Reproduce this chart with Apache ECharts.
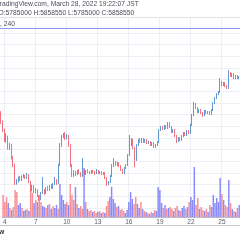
<!DOCTYPE html>
<html><head><meta charset="utf-8">
<script src="https://cdn.jsdelivr.net/npm/echarts@6/dist/echarts.min.js"></script>
<style>html,body{margin:0;padding:0;background:#fff;overflow:hidden}#c{width:240px;height:240px}</style>
</head><body><div id="c"></div>
<script>
// 240-minute candles, prices in thousand JPY
const tickDays = [4, 7, 10, 13, 16, 19, 22, 25];
const openK = [5314,5237,5168,5083,5108,5014,5040,4928,4868,4714,
4731,4757,4740,4766,4774,4757,4783,4723,4654,4689,
4637,4654,4603,4577,4628,4654,4628,4671,4654,4689,
4671,4706,4740,4714,4868,5040,5108,5134,5100,5117,
5040,4868,4783,4808,4791,4817,4800,4774,4808,4791,
4817,4808,4800,4817,4808,4800,4817,4800,4808,4791,
4800,4757,4706,4723,4774,4860,4894,4868,4886,4860,
4826,4800,4843,4868,4954,5040,5083,5014,4911,5040,
5083,5066,5091,5066,5083,5057,5066,5040,5057,5023,
5040,5066,5168,5194,5177,5203,5186,5228,5194,5151,
5168,5117,5074,5100,5083,5117,5143,5126,5160,5143,
5211,5297,5391,5357,5323,5340,5314,5297,5331,5314,
5323,5305,5340,5400,5443,5477,5494,5580,5554,5571,
5545,5528,5657,5631,5648,5614,5631,5614];
const closeK = [5237,5168,5083,5126,5014,5040,4928,4868,4714,4731,
4757,4740,4766,4774,4757,4783,4723,4654,4689,4637,
4654,4603,4577,4628,4654,4628,4671,4654,4689,4671,
4706,4740,4714,4868,5040,5108,5134,5100,5117,5040,
4868,4783,4808,4791,4817,4800,4774,4808,4791,4817,
4808,4800,4817,4808,4800,4817,4800,4808,4791,4800,
4757,4706,4723,4774,4860,4894,4868,4886,4860,4826,
4800,4843,4868,4954,5040,5083,5014,4911,5040,5083,
5066,5091,5066,5083,5057,5066,5040,5057,5023,5040,
5066,5168,5194,5177,5203,5186,5228,5194,5151,5168,
5117,5074,5100,5083,5117,5143,5126,5160,5143,5211,
5297,5391,5357,5323,5340,5314,5297,5331,5314,5323,
5305,5340,5400,5443,5477,5494,5580,5554,5571,5545,
5528,5657,5631,5648,5614,5631,5614,5623];
const lowK = [5220,5150,5066,5060,5000,4997,4915,4851,4697,4700,
4720,4731,4731,4757,4748,4748,4714,4637,4646,4628,
4628,4594,4560,4569,4620,4611,4620,4646,4646,4663,
4663,4697,4697,4706,4860,5023,5100,5083,5091,5023,
4851,4766,4766,4774,4783,4791,4766,4766,4783,4783,
4800,4791,4791,4800,4783,4791,4791,4791,4783,4783,
4748,4689,4697,4714,4766,4851,4860,4860,4851,4817,
4791,4791,4834,4860,4945,5031,5005,4851,4903,5031,
5057,5057,5057,5057,5048,5048,5031,5031,5014,5014,
5031,5057,5160,5168,5168,5177,5177,5186,5143,5143,
5108,5057,5066,5074,5074,5108,5117,5117,5134,5134,
5203,5288,5348,5314,5314,5305,5280,5288,5305,5305,
5297,5297,5331,5391,5434,5468,5486,5545,5545,5537,
5520,5520,5623,5623,5605,5605,5605,5605];
const highK = [5330,5250,5180,5140,5120,5057,5048,4945,4880,4748,
4770,4774,4780,4791,4783,4800,4791,4731,4700,4697,
4671,4663,4611,4637,4766,4663,4680,4689,4697,4706,
4714,4766,4748,4880,5057,5126,5143,5151,5134,5126,
5048,4877,4826,4817,4826,4834,4808,4928,4826,4826,
4834,4817,4826,4826,4817,4834,4826,4817,4817,4808,
4808,4766,4731,4783,4877,4928,4903,4894,4894,4868,
4834,4851,4877,4962,5126,5100,5091,5023,5048,5091,
5100,5100,5100,5091,5091,5074,5074,5066,5066,5048,
5074,5177,5203,5203,5211,5211,5237,5237,5203,5177,
5177,5126,5108,5108,5126,5151,5151,5168,5168,5220,
5305,5408,5400,5366,5348,5348,5323,5340,5340,5331,
5331,5348,5408,5451,5486,5503,5614,5588,5580,5580,
5554,5682,5665,5657,5657,5640,5640,5631];
const volume = [220,150,200,140,90,70,100,270,250,120,
140,90,60,70,80,60,260,240,140,170,
150,220,150,110,100,90,120,130,80,110,
90,120,80,330,220,170,130,150,120,330,
220,170,300,130,90,110,80,490,150,80,
60,70,50,60,40,50,60,40,50,40,
110,160,200,300,180,140,100,110,70,80,
60,40,70,150,250,180,130,200,130,90,
150,80,60,50,40,30,50,40,70,60,
300,270,140,90,120,80,90,100,80,60,
90,110,70,60,90,110,80,100,150,200,
170,500,120,190,80,100,70,60,80,50,
120,100,220,140,190,150,390,230,170,120,
100,370,140,80,60,50,90,120];

// category labels: 4h bars starting 2022-03-03 20:00
const categories = [];
const barDay = [], barHour = [];
for (let i = 0; i < openK.length; i++) {
  const h = 20 + 4 * i;
  const d = 3 + Math.floor(h / 24), hh = h % 24;
  barDay.push(d); barHour.push(hh);
  categories.push('3/' + d + ' ' + (hh < 10 ? '0' : '') + hh + ':00');
}
const isTick = (idx) => barHour[idx] === 0 && tickDays.indexOf(barDay[idx]) >= 0;

const UP = '#3f80c6', DOWN = '#ef4f60';
const candleData = openK.map((o, i) => [o, closeK[i], lowK[i], highK[i]]);
const volData = volume.map((v, i) => ({
  value: v,
  itemStyle: { color: closeK[i] >= openK[i] ? 'rgba(112,112,248,0.82)' : 'rgba(247,118,124,0.82)' }
}));

const chart = echarts.init(document.getElementById('c'), null, { renderer: 'canvas' });
const gridC = '#eceff5';
chart.setOption({
  animation: false,
  backgroundColor: '#ffffff',
  grid: [
    { left: 0, right: 0, top: 33, bottom: 32 },
    { left: 0, right: 0, top: 17, bottom: 23 }
  ],
  xAxis: [
    { type: 'category', gridIndex: 0, data: categories, boundaryGap: true, show: false },
    { type: 'category', gridIndex: 1, data: categories, boundaryGap: true,
      axisLine: { show: true, lineStyle: { color: '#b8bbc4', width: 1 } },
      axisTick: { show: false },
      axisLabel: { interval: (i) => isTick(i), formatter: (v, i) => String(barDay[i]),
        fontSize: 6.5, color: '#5d606b', margin: 2, fontFamily: 'Liberation Sans' },
      splitLine: { show: true, interval: (i) => isTick(i), lineStyle: { color: gridC, width: 1 } }
    }
  ],
  yAxis: [
    { type: 'value', gridIndex: 0, min: 4500, max: 6000, interval: 100, scale: true,
      axisLine: { show: false }, axisTick: { show: false }, axisLabel: { show: false },
      splitLine: { show: true, lineStyle: { color: gridC, width: 1 } } },
    { type: 'value', gridIndex: 1, min: 0, max: 2000,
      axisLine: { show: false }, axisTick: { show: false }, axisLabel: { show: false },
      splitLine: { show: false } }
  ],
  series: [
    { type: 'bar', xAxisIndex: 1, yAxisIndex: 1, data: volData, barWidth: '86%', z: 1 },
    { type: 'candlestick', xAxisIndex: 0, yAxisIndex: 0, data: candleData, barWidth: '72%', z: 3,
      itemStyle: { color: UP, color0: DOWN, borderColor: UP, borderColor0: DOWN, borderWidth: 0.8 } }
  ],
  graphic: [
    { type: 'line', shape: { x1: 0, y1: 17.5, x2: 240, y2: 17.5 }, style: { stroke: '#dfe1e6', lineWidth: 1 }, z: 10 },
    { type: 'line', shape: { x1: 0, y1: 28.5, x2: 240, y2: 28.5 }, style: { stroke: '#8f92f0', lineWidth: 1 }, z: 10 },
    { type: 'line', shape: { x1: 0, y1: 225.5, x2: 240, y2: 225.5 }, style: { stroke: '#c4c6cd', lineWidth: 1 }, z: 10 },
    { type: 'text', x: -4, y: 1, style: { text: 'TradingView.com, March 28, 2022 19:22:07 JST', font: '6.7px "Liberation Sans"', fill: '#4c4f5a' }, z: 10 },
    { type: 'text', x: -1.5, y: 10, style: { text: 'O:5785000 H:5858550 L:5785000 C:5858550', font: '6.7px "Liberation Sans"', fill: '#4c4f5a' }, z: 10 },
    { type: 'text', x: 0, y: 21, style: { text: ', 240', font: '6.7px "Liberation Sans"', fill: '#4c4f5a' }, z: 10 },
    { type: 'text', x: -1, y: 229, style: { text: 'w', font: 'bold 6.7px "Liberation Sans"', fill: '#2a2e39' }, z: 10 }
  ]
});
</script></body></html>
